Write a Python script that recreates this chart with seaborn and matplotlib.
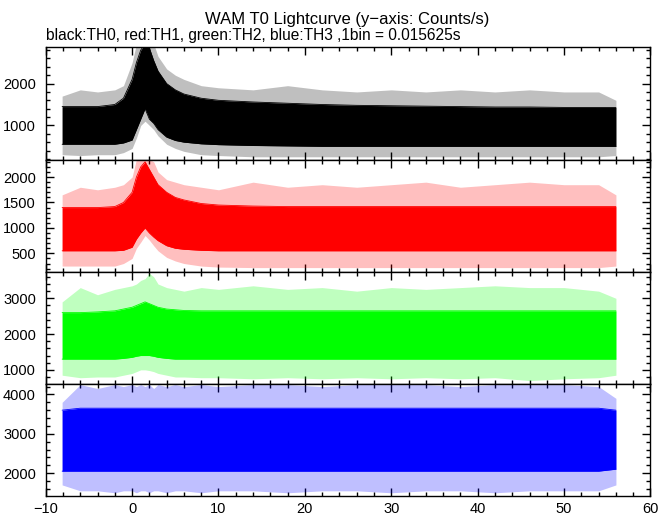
import numpy as np
import pandas as pd
import seaborn as sns
import matplotlib.pyplot as plt
from matplotlib.ticker import MultipleLocator

time = [-8.1, -6, -4, -2, -1, 0, 0.5, 1, 1.5, 2, 2.5, 3, 4, 5, 6, 8, 10,
        14, 18, 22, 26, 30, 34, 38, 42, 46, 50, 54, 56.0]

# TH0 (black): dense band top/bottom and spike max/min, counts/s
th0_hi = [1450, 1450, 1450, 1500, 1650, 2100, 2500, 2800, 2950, 2850, 2550, 2300, 2000, 1850, 1750, 1650, 1600,
          1560, 1530, 1500, 1480, 1470, 1460, 1450, 1440, 1440, 1430, 1430, 1430]
th0_max = [1700, 1850, 1800, 1850, 1950, 2500, 2950, 2950, 2950, 2950, 2950, 2650, 2350, 2200, 2100, 1950, 1900,
           1850, 1950, 1850, 1800, 1850, 1800, 1850, 1800, 1850, 1800, 1800, 1600]
th0_lo = [550, 550, 550, 550, 580, 650, 900, 1150, 1400, 1150, 1050, 900, 720, 640, 600, 560, 540,
          520, 510, 500, 500, 500, 500, 500, 500, 500, 500, 500, 500]
th0_min = [300, 280, 300, 300, 350, 450, 700, 1000, 1100, 1000, 900, 750, 550, 450, 380, 300, 280,
           250, 250, 250, 250, 250, 250, 250, 250, 250, 250, 250, 280]

# TH1 (red)
th1_hi = [1400, 1400, 1400, 1420, 1500, 1700, 2000, 2200, 2300, 2150, 2000, 1850, 1700, 1600, 1550, 1480, 1450,
          1430, 1420, 1420, 1420, 1420, 1420, 1420, 1420, 1420, 1420, 1420, 1420]
th1_max = [1650, 1800, 1750, 1800, 1850, 2000, 2350, 2350, 2350, 2350, 2300, 2100, 1950, 1900, 1850, 1800, 1750,
           1900, 1800, 1850, 1800, 1850, 1900, 1800, 1850, 1900, 1850, 1850, 1650]
th1_lo = [550, 550, 550, 550, 560, 620, 780, 900, 1000, 900, 820, 750, 650, 600, 580, 560, 550,
          550, 550, 550, 550, 550, 550, 550, 550, 550, 550, 550, 550]
th1_min = [250, 250, 250, 250, 300, 400, 600, 720, 850, 760, 650, 550, 420, 350, 300, 250, 230,
           220, 220, 220, 220, 220, 220, 220, 220, 220, 220, 220, 250]

# TH2 (green)
th2_hi = [2600, 2600, 2620, 2650, 2700, 2750, 2800, 2850, 2900, 2850, 2800, 2750, 2700, 2680, 2660, 2650, 2650,
          2650, 2650, 2650, 2650, 2650, 2650, 2650, 2650, 2650, 2650, 2650, 2650]
th2_max = [2900, 3300, 3100, 3250, 3300, 3350, 3400, 3500, 3550, 3700, 3600, 3400, 3300, 3250, 3200, 3300, 3250,
           3350, 3250, 3300, 3200, 3300, 3250, 3300, 3350, 3300, 3300, 3200, 3000]
th2_lo = [1300, 1300, 1300, 1300, 1320, 1350, 1380, 1400, 1400, 1400, 1380, 1350, 1320, 1300, 1300, 1300, 1300,
          1300, 1300, 1300, 1300, 1300, 1300, 1300, 1300, 1300, 1300, 1300, 1300]
th2_min = [850, 780, 800, 800, 850, 900, 950, 1000, 1000, 980, 950, 900, 850, 800, 800, 780, 780,
           750, 780, 750, 780, 750, 780, 750, 780, 700, 750, 780, 850]

# TH3 (blue)
th3_hi = [3600, 3650, 3650, 3650, 3650, 3650, 3650, 3650, 3650, 3650, 3650, 3650, 3650, 3650, 3650, 3650, 3650,
          3650, 3650, 3650, 3650, 3650, 3650, 3650, 3650, 3650, 3650, 3650, 3600]
th3_max = [3800, 4250, 4150, 4250, 4200, 4250, 4200, 4250, 4200, 4250, 4150, 4250, 4200, 4250, 4200, 4250, 4200,
           4250, 4250, 4200, 4250, 4250, 4250, 4200, 4250, 4250, 4250, 4200, 3900]
th3_lo = [2050, 2050, 2050, 2050, 2050, 2050, 2050, 2050, 2050, 2050, 2050, 2050, 2050, 2050, 2050, 2050, 2050,
          2050, 2050, 2050, 2050, 2050, 2050, 2050, 2050, 2050, 2050, 2050, 2100]
th3_min = [1700, 1550, 1550, 1500, 1550, 1550, 1500, 1550, 1550, 1500, 1550, 1550, 1500, 1550, 1550, 1500, 1550,
           1550, 1500, 1550, 1550, 1500, 1550, 1550, 1500, 1550, 1550, 1550, 1700]

channels = ['TH0', 'TH1', 'TH2', 'TH3']
colors = ['black', 'red', '#00ff00', 'blue']
bands = [(th0_lo, th0_hi, th0_min, th0_max), (th1_lo, th1_hi, th1_min, th1_max),
         (th2_lo, th2_hi, th2_min, th2_max), (th3_lo, th3_hi, th3_min, th3_max)]
ylims = [(185, 2865), (140, 2345), (610, 3745), (1420, 4270)]
majors = [1000, 500, 1000, 1000]
minors = [200, 100, 200, 200]

sns.set_style('ticks')
plt.rcParams['font.family'] = ['Liberation Sans', 'DejaVu Sans']
plt.rcParams['text.color'] = 'black'

fig, axes = plt.subplots(4, 1, sharex=True, figsize=(6.72, 5.15), dpi=100)
fig.subplots_adjust(left=0.068, right=0.968, bottom=0.037, top=0.908, hspace=0)

for ax, ch, col, (lo, hi, mn, mx), yl, mj, mi in zip(axes, channels, colors, bands, ylims, majors, minors):
    df = pd.DataFrame({'time': time, 'lo': lo, 'hi': hi, 'min': mn, 'max': mx})
    # sparse spikes: faint outer envelope, dense band: solid
    ax.fill_between(df['time'], df['min'], df['max'], color=col, alpha=0.25, lw=0)
    ax.fill_between(df['time'], df['lo'], df['hi'], color=col, lw=0)
    sns.lineplot(data=df, x='time', y='hi', ax=ax, color=col, lw=0.6)
    sns.lineplot(data=df, x='time', y='lo', ax=ax, color=col, lw=0.6)
    ax.set_ylim(*yl)
    ax.set_xlim(-10, 60)
    ax.set_xlabel('')
    ax.set_ylabel('')
    ax.yaxis.set_major_locator(MultipleLocator(mj))
    ax.yaxis.set_minor_locator(MultipleLocator(mi))
    ax.xaxis.set_major_locator(MultipleLocator(10))
    ax.xaxis.set_minor_locator(MultipleLocator(2))
    ax.tick_params(which='both', direction='in', top=True, right=True, width=1,
                   color='black', labelcolor='black')
    ax.tick_params(which='major', length=6)
    ax.tick_params(which='minor', length=3)
    ax.tick_params(axis='y', labelsize=10.5, pad=7)
    ax.tick_params(axis='x', labelsize=10.5, pad=4)
    for s in ax.spines.values():
        s.set_linewidth(1)
        s.set_color('black')

fig.text(0.516, 0.963, 'WAM T0 Lightcurve (y\u2212axis: Counts/s)', ha='center', va='center',
         fontsize=12, color='black')
fig.text(0.068, 0.932, 'black:TH0, red:TH1, green:TH2, blue:TH3 ,1bin = 0.015625s',
         ha='left', va='center', fontsize=11.2, color='black')

fig.savefig('out.png', dpi=100)
